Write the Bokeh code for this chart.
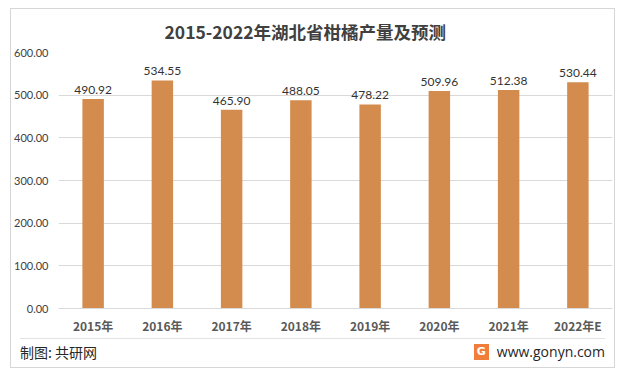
from bokeh.plotting import figure
from bokeh.models import NumeralTickFormatter, ColumnDataSource, FixedTicker, LabelSet, Div
from bokeh.layouts import column
from bokeh.embed import file_html
from bokeh.resources import INLINE
from bokeh.core.properties import value

years = ["2015年", "2016年", "2017年", "2018年", "2019年", "2020年", "2021年", "2022年E"]
output = [490.92, 534.55, 465.90, 488.05, 478.22, 509.96, 512.38, 530.44]
labels = ["%.2f" % v for v in output]
title = "2015-2022年湖北省柑橘产量及预测"
source_note = "制图: 共研网"
site = "www.gonyn.com"

W, H = 603, 329
p = figure(x_range=years, y_range=(0, 600), width=W, height=H,
           output_backend="svg", toolbar_location=None,
           min_border_left=46, min_border_right=2, min_border_top=41,
           min_border_bottom=30)
p.outline_line_color = None
p.background_fill_color = "white"
p.border_fill_color = "white"

p.title.text = title
p.title.align = "left"
p.title.offset = 106
p.title.standoff = 16
p.title.vertical_align = "middle"
p.title.text_font = "Noto Sans CJK SC"
p.title.text_font_size = "17.5px"
p.title.text_font_style = "bold"
p.title.text_color = "#404040"

src = ColumnDataSource(dict(x=years, y=output, t=labels))
p.vbar(x="x", top="y", width=0.31, source=src, color="#D38C4E", line_color=None)
p.add_layout(LabelSet(x="x", y="y", text="t", source=src, text_align="center",
                      text_baseline="bottom", y_offset=5, text_font_size="12px",
                      text_font=value("Lato"), text_color="#333333"))

p.yaxis.ticker = FixedTicker(ticks=[0, 100, 200, 300, 400, 500, 600])
p.yaxis.formatter = NumeralTickFormatter(format="0.00")
p.yaxis.axis_line_color = None
p.yaxis.major_tick_line_color = None
p.yaxis.minor_tick_line_color = None
p.yaxis.major_tick_out = 0
p.yaxis.major_tick_in = 0
p.yaxis.major_label_text_font = "Lato"
p.yaxis.major_label_text_font_size = "11px"
p.yaxis.major_label_text_color = "#404040"
p.yaxis.major_label_standoff = 10

p.xaxis.axis_line_color = "#d9d9d9"
p.xaxis.major_tick_line_color = None
p.xaxis.minor_tick_line_color = None
p.xaxis.major_tick_out = 0
p.xaxis.major_tick_in = 0
p.xaxis.major_label_text_font = "Noto Sans CJK SC"
p.xaxis.major_label_text_font_size = "12px"
p.xaxis.major_label_text_font_style = "bold"
p.xaxis.major_label_text_color = "#595959"
p.xaxis.major_label_standoff = 8

p.xgrid.grid_line_color = None
p.ygrid.grid_line_color = "#d9d9d9"

footer_html = (
    '<div style="display:flex;justify-content:space-between;align-items:center;'
    'box-sizing:border-box;width:585px;height:29px;margin:0 0 0 9px;padding-bottom:3px;'
    'border-top:1px solid #e3e3e3;color:#262626;">'
    '<span style="font-family:\'Noto Sans CJK SC\';font-size:14px;">%s</span>'
    '<span style="display:flex;align-items:center;">'
    '<span style="display:inline-flex;align-items:center;justify-content:center;'
    'width:15px;height:16px;background:#F07E3A;color:white;font-family:\'DejaVu Sans\';'
    'font-weight:bold;font-size:11px;margin-right:8px;">G</span>'
    '<span style="font-family:\'Open Sans\';font-size:14px;">%s</span></span></div>'
) % (source_note, site)
footer = Div(text=footer_html, width=W, height=29, margin=0)

page = column(p, footer, spacing=0,
              styles={"border": "1px solid #d6d6d6", "margin-left": "10px",
                      "margin-top": "8px", "background": "white"})

open("out.html", "w").write(file_html(page, INLINE))
